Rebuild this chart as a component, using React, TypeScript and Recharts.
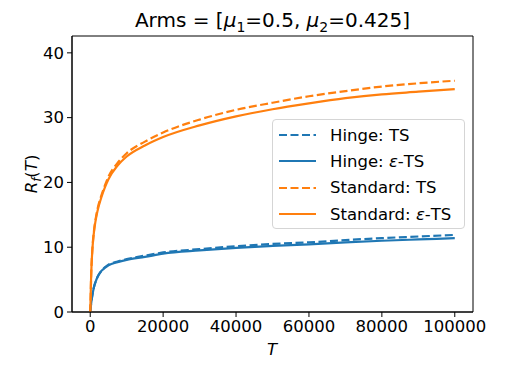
import { LineChart, Line, XAxis, YAxis, ReferenceArea } from 'recharts';

const tValues = [0, 100, 250, 500, 1000, 1500, 2000, 3000, 4000, 5000, 7500, 10000, 15000, 20000, 30000, 40000, 50000, 60000, 70000, 80000, 90000, 100000];
const hingeTS = [0, 0.5, 1.3, 2.3, 3.8, 4.7, 5.4, 6.3, 6.9, 7.3, 7.8, 8.15, 8.7, 9.2, 9.7, 10.15, 10.5, 10.75, 11.1, 11.4, 11.65, 11.9];
const hingeEpsTS = [0, 0.5, 1.3, 2.3, 3.8, 4.7, 5.4, 6.3, 6.8, 7.2, 7.7, 8.05, 8.5, 9.0, 9.5, 9.9, 10.2, 10.45, 10.75, 11.0, 11.2, 11.4];
const standardTS = [0, 2, 5.6, 8.9, 12.4, 14.4, 15.9, 17.9, 19.5, 20.9, 23.0, 24.5, 26.3, 27.7, 29.7, 31.2, 32.3, 33.3, 34.1, 34.8, 35.3, 35.7];
const standardEpsTS = [0, 2, 5.5, 8.8, 12.2, 14.2, 15.6, 17.6, 19.2, 20.5, 22.6, 24.0, 25.7, 27.0, 28.8, 30.2, 31.3, 32.2, 33.0, 33.6, 34.0, 34.4];
const xTicks = [0, 20000, 40000, 60000, 80000, 100000];
const yTicks = [0, 10, 20, 30, 40];

const data = tValues.map((t, i) => ({
  t,
  hingeTS: hingeTS[i],
  hingeEpsTS: hingeEpsTS[i],
  standardTS: standardTS[i],
  standardEpsTS: standardEpsTS[i],
}));

const BLUE = '#1f77b4';
const ORANGE = '#ff7f0e';
const FONT = 'DejaVu Sans, sans-serif';

const legendItems = [
  { label: 'Hinge: ', tail: 'TS', eps: false, color: BLUE, dash: '8 3.5' },
  { label: 'Hinge: ', tail: '-TS', eps: true, color: BLUE, dash: undefined },
  { label: 'Standard: ', tail: 'TS', eps: false, color: ORANGE, dash: '8 3.5' },
  { label: 'Standard: ', tail: '-TS', eps: true, color: ORANGE, dash: undefined },
];

function LegendBox() {
  return (
    <div
      style={{
        position: 'absolute',
        left: 272,
        top: 119,
        width: 191,
        height: 106,
        border: '1px solid #d5d5d5',
        borderRadius: 4,
        background: 'rgba(255,255,255,0.85)',
        fontFamily: FONT,
        fontSize: 16.5,
        color: '#000',
        paddingTop: 2,
        boxSizing: 'content-box',
      }}
    >
      {legendItems.map((it, i) => (
        <div key={i} style={{ display: 'flex', alignItems: 'center', height: 26.3 }}>
          <svg width={37} height={6} style={{ marginLeft: 6, marginRight: 14 }}>
            <line x1={0} y1={3} x2={37} y2={3} stroke={it.color} strokeWidth={2.2} strokeDasharray={it.dash} />
          </svg>
          <span style={{ whiteSpace: 'nowrap' }}>
            {it.label}
            {it.eps && <i>ε</i>}
            {it.tail}
          </span>
        </div>
      ))}
    </div>
  );
}

export default function App() {
  return (
    <div style={{ position: 'absolute', left: 0, top: 0, width: 509, height: 369, background: '#fff' }}>
      <div
        style={{
          position: 'absolute',
          left: 72,
          width: 401,
          top: 8,
          textAlign: 'center',
          fontFamily: FONT,
          fontSize: 20,
          color: '#000',
          whiteSpace: 'nowrap',
        }}
      >
        Arms = [<i>μ</i><sub style={{ fontSize: 14 }}>1</sub>=0.5, <i>μ</i><sub style={{ fontSize: 14 }}>2</sub>=0.425]
      </div>
      <div
        style={{
          position: 'absolute',
          left: 33,
          top: 174,
          transform: 'translate(-50%, -50%) rotate(-90deg)',
          fontFamily: FONT,
          fontSize: 16.5,
          color: '#000',
          whiteSpace: 'nowrap',
        }}
      >
        <i>R</i><sub style={{ fontSize: 12 }}><i>f</i></sub>(<i>T</i>)
      </div>
      <div
        style={{
          position: 'absolute',
          left: 272,
          top: 349,
          transform: 'translate(-50%, -50%)',
          fontFamily: FONT,
          fontSize: 16.5,
          color: '#000',
        }}
      >
        <i>T</i>
      </div>
      <LineChart width={509} height={369} data={data} margin={{ top: 36, right: 36, bottom: 0, left: 0 }}>
        <XAxis
          dataKey="t"
          type="number"
          domain={[-5000, 105000]}
          ticks={xTicks}
          allowDataOverflow
          height={57}
          tickSize={5}
          tickMargin={3}
          tick={{ fontFamily: FONT, fontSize: 16.5, fill: '#000' }}
          axisLine={{ stroke: '#000' }}
          tickLine={{ stroke: '#000' }}
        />
        <YAxis
          type="number"
          domain={[0, 42.6]}
          ticks={yTicks}
          allowDataOverflow
          width={72}
          tickSize={5}
          tickMargin={3}
          tick={{ fontFamily: FONT, fontSize: 16.5, fill: '#000' }}
          axisLine={{ stroke: '#000' }}
          tickLine={{ stroke: '#000' }}
        />
        <ReferenceArea x1={-5000} x2={105000} y1={0} y2={42.6} fill="none" stroke="#000" strokeWidth={1} ifOverflow="visible" />
        <Line dataKey="hingeTS" type="monotone" stroke={BLUE} strokeWidth={2.2} strokeDasharray="8 3.5" dot={false} isAnimationActive={false} />
        <Line dataKey="hingeEpsTS" type="monotone" stroke={BLUE} strokeWidth={2.2} dot={false} isAnimationActive={false} />
        <Line dataKey="standardTS" type="monotone" stroke={ORANGE} strokeWidth={2.2} strokeDasharray="8 3.5" dot={false} isAnimationActive={false} />
        <Line dataKey="standardEpsTS" type="monotone" stroke={ORANGE} strokeWidth={2.2} dot={false} isAnimationActive={false} />
      </LineChart>
      <LegendBox />
    </div>
  );
}
